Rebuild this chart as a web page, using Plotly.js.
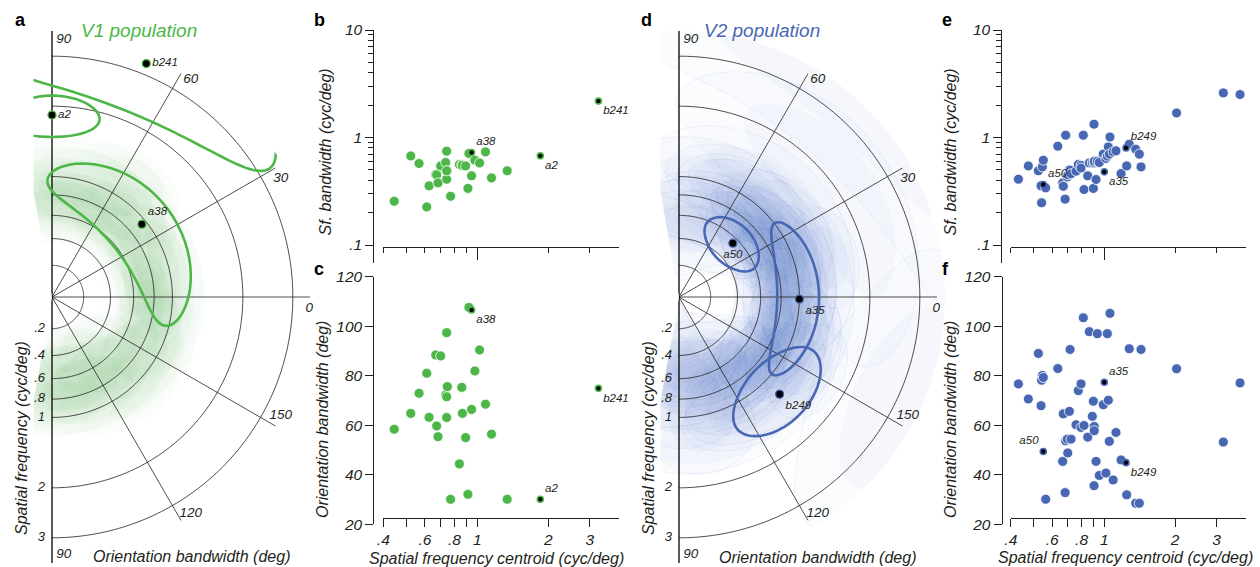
<!DOCTYPE html>
<html>
<head>
<meta charset="utf-8">
<script src="https://cdn.plot.ly/plotly-3.0.1.min.js"></script>
<style>
html,body{margin:0;padding:0;background:#fff;}
#fig{width:1260px;height:567px;}
</style>
</head>
<body>
<div id="fig"></div>
<script>
// ================= DATA =================
// polar grid: spatial-frequency rings (cyc/deg) and orientation ticks (deg)
const ringValues = [0.2, 0.4, 0.6, 0.8, 1, 2, 3];
const ringLabels = ['.2', '.4', '.6', '.8', '1', '2', '3'];
const spokeAngles = [0, 30, 60, -30, -60];
const angleTickPos = [90, 60, 30, 0, -30, -60, -90];
const angleTickText = ['90', '60', '30', '0', '150', '120', '90'];

// cartesian ticks
const sfTickVals = [0.4, 0.6, 0.8, 1, 2, 3];
const sfTickText = ['.4', '.6', '.8', '1', '2', '3'];
const sfMinorVals = [0.5, 0.7, 0.9];
const sfShortVals = [0.4, 0.5, 0.6, 0.7, 0.8, 0.9, 2, 3];
const bwTickVals = [0.1, 1, 10];
const bwTickText = ['.1', '1', '10'];
const bwMinorVals = [0.2, 0.3, 0.4, 0.5, 0.6, 0.7, 0.8, 0.9, 2, 3, 4, 5, 6, 7, 8, 9];
const oriTickVals = [20, 40, 60, 80, 100, 120];

// V1 population: SF centroid, SF bandwidth, orientation bandwidth, preferred orientation
const v1SF    = [0.445,0.523,0.567,0.611,0.625,0.667,0.673,0.682,0.700,0.735,0.742,0.747,0.742,0.742,0.771,0.840,0.860,0.865,0.893,0.913,0.922,0.946,0.977,1.023,1.084,1.149,1.339];
const v1SFbw  = [0.255,0.674,0.573,0.226,0.355,0.453,0.450,0.378,0.544,0.585,0.746,0.490,0.409,0.490,0.284,0.561,0.561,0.550,0.544,0.336,0.710,0.440,0.615,0.580,0.735,0.421,0.490];
const v1OriBw = [58.4,64.8,72.9,81.0,63.2,88.4,59.7,55.4,88.0,72.2,97.4,75.6,71.5,63.1,30.1,44.4,75.3,64.8,55.0,32.1,107.6,66.4,81.9,90.4,68.5,56.4,30.1];
const v1Pref  = [105,120,95,20,135,85,110,10,100,30,125,88,160,75,5,150,60,92,15,170,25,115,80,0,70,140,55];
// V1 example neurons
const v1HiName  = ['a2', 'b241', 'a38'];
const v1HiSF    = [1.85, 3.26, 0.946];
const v1HiSFbw  = [0.675, 2.18, 0.725];
const v1HiOriBw = [30.1, 74.9, 106.6];
const v1HiPref  = [90, 68, 39];

// V2 population
const v2SF    = [0.431,0.475,0.524,0.538,0.541,0.545,0.55,0.563,0.634,0.665,0.669,0.681,0.685,0.696,0.699,0.71,0.715,0.722,0.758,0.775,0.796,0.796,0.814,0.82,0.85,0.863,0.889,0.904,0.898,0.906,0.906,0.922,0.934,0.952,0.99,1.016,1.03,1.04,1.05,1.057,1.09,1.121,1.178,1.245,1.277,1.36,1.409,1.433,2.03,3.21,3.78];
const v2SFbw  = [0.409,0.544,0.49,0.355,0.247,0.533,0.615,0.34,0.83,0.378,0.352,0.267,1.05,0.43,0.45,0.50,0.497,0.46,0.486,0.561,0.55,0.52,1.05,0.328,0.44,0.58,0.58,1.33,0.336,0.58,0.60,0.407,0.60,0.585,0.70,0.638,0.67,0.818,0.70,1.01,0.735,0.751,0.462,0.544,0.867,0.778,0.70,0.533,1.69,2.60,2.51];
const v2OriBw = [76.7,70.6,89.0,67.9,78.2,80.1,79.3,30.1,82.9,45.4,64.6,32.8,53.7,54.4,48.8,65.6,90.6,54.4,60.2,74.0,76.7,59.1,103.4,59.9,55.2,97.8,63.6,35.6,69.7,59.5,57.8,45.4,97.0,39.7,68.3,40.7,97.0,70.1,53.5,105.2,37.9,57.1,46.0,31.9,90.9,28.5,28.5,90.6,82.8,53.2,77.1];
const v2Pref  = [100,115,75,95,60,110,85,130,105,30,120,50,92,10,150,65,165,40,135,20,110,0,80,160,35,125,15,100,55,170,25,145,5,120,45,155,20,140,60,175,30,130,10,160,40,150,15,115,35,155,50];
// V2 example neurons
const v2HiName  = ['a50', 'a35', 'b249'];
const v2HiSF    = [0.55, 1.0, 1.237];
const v2HiSFbw  = [0.365, 0.479, 0.80];
const v2HiOriBw = [49.4, 77.4, 44.9];
const v2HiPref  = [45, 179, 136];

// ================= STYLE =================
const W = 1260, H = 567;
const INK = '#231f20';
const GREEN = '#4cb748', GREEN_RGB = '76,183,72';
const BLUE = '#4767b3', BLUE_RGB = '71,103,179';
const FONT = 'Liberation Sans, Arial, Helvetica, sans-serif';
const R_MAX = 0.665, SPOKE_R = 0.645, LABEL_R = 0.644;
const italic = (size, color) => ({family: FONT, size: size, style: 'italic', color: color || INK});

// ================= HELPERS =================
const u = f => Math.log10(1 + Math.max(f, 0));            // radial scale: log(1+SF)
const plotAngle = o => (o > 90 ? o - 180 : o);            // orientation 0..180 -> -90..90

function tuningEllipse(ori, sf, oriBw, sfBw, scale) {
  const th = [], r = [], n = 90, c = plotAngle(ori);
  for (let i = 0; i <= n; i++) {
    const t = 2 * Math.PI * i / n;
    th.push(c + scale * oriBw / 2 * Math.cos(t));
    r.push(u(sf + scale * sfBw / 2 * Math.sin(t)));
  }
  return {th, r};
}

function blobTraces(sub, sf, sfbw, oribw, pref, rgb, alphas, edgeAlpha) {
  const out = [];
  for (let i = 0; i < sf.length; i++) {
    [[1.35, alphas[0], edgeAlpha], [0.85, alphas[1], 0]].forEach(([s, a, ea]) => {
      const e = tuningEllipse(pref[i], sf[i], oribw[i], sfbw[i], s);
      out.push({type: 'scatterpolar', subplot: sub, r: e.r, theta: e.th, mode: 'lines', fill: 'toself',
        fillcolor: `rgba(${rgb},${a})`, line: {color: `rgba(${rgb},${ea})`, width: ea > 0 ? 0.7 : 0},
        hoverinfo: 'skip'});
    });
  }
  return out;
}

function gridTraces(sub) {
  const out = [];
  const th = [];
  for (let a = -90; a <= 90; a += 1) th.push(a);
  ringValues.forEach(f => out.push({type: 'scatterpolar', subplot: sub, r: th.map(() => u(f)), theta: th,
    mode: 'lines', line: {color: INK, width: 0.8}, hoverinfo: 'skip'}));
  spokeAngles.forEach(a => out.push({type: 'scatterpolar', subplot: sub, r: [0, SPOKE_R], theta: [a, a],
    mode: 'lines', line: {color: INK, width: 0.8}, hoverinfo: 'skip'}));
  out.push({type: 'scatterpolar', subplot: sub, r: [R_MAX, 0, R_MAX], theta: [90, 90, -90], mode: 'lines',
    line: {color: '#000', width: 1.3}, hoverinfo: 'skip'});
  return out;
}

function labelTraces(sub) {
  return [
    {type: 'scatterpolar', subplot: sub, mode: 'markers+text', r: ringValues.map(u), theta: ringValues.map(() => -90),
      text: ringLabels, textposition: 'middle left', marker: {size: 9.6, color: 'rgba(0,0,0,0)'},
      textfont: italic(13), cliponaxis: false, hoverinfo: 'skip'},
    {type: 'scatterpolar', subplot: sub, mode: 'text', r: angleTickPos.map(() => LABEL_R),
      theta: angleTickPos.map(a => a - 2.6 * (a >= 0 ? 1 : -1)), text: angleTickText, textposition: 'middle center',
      textfont: italic(13.5), cliponaxis: false, hoverinfo: 'skip'}
  ];
}

function contourTraces(sub, sf, sfbw, oribw, pref, color) {
  return sf.map((s, i) => {
    const e = tuningEllipse(pref[i], s, oribw[i], sfbw[i], 1);
    return {type: 'scatterpolar', subplot: sub, r: e.r, theta: e.th, mode: 'lines',
      line: {color: color, width: 2.6}, hoverinfo: 'skip'};
  });
}

function hiPolarTrace(sub, names, sf, pref, pos, color) {
  return {type: 'scatterpolar', subplot: sub, mode: 'markers+text', r: sf.map(u), theta: pref.map(plotAngle),
    text: names, textposition: pos, textfont: italic(11.5),
    marker: {size: 8, color: '#000', line: {color: color, width: 1.3}}, cliponaxis: false, hoverinfo: 'skip'};
}

function dotTraces(xa, ya, xs, ys, hx, hy, names, pos, color) {
  return [
    {type: 'scatter', xaxis: xa, yaxis: ya, x: xs, y: ys, mode: 'markers',
      marker: {size: 10, color: color, line: {color: '#fff', width: 0.8}}, hoverinfo: 'skip'},
    {type: 'scatter', xaxis: xa, yaxis: ya, x: hx, y: hy, mode: 'markers+text', text: names, textposition: pos,
      textfont: italic(11.5), marker: {size: 6, color: '#000', line: {color: color, width: 1.6}},
      cliponaxis: false, hoverinfo: 'skip'}
  ];
}

// ================= TRACES =================
let traces = [];
traces = traces.concat(blobTraces('polar', v1SF, v1SFbw, v1OriBw, v1Pref, GREEN_RGB, [0.025, 0.04], 0));
traces = traces.concat(blobTraces('polar2', v2SF, v2SFbw, v2OriBw, v2Pref, BLUE_RGB, [0.018, 0.032], 0.1));
traces = traces.concat(gridTraces('polar'), gridTraces('polar2'));
traces = traces.concat(contourTraces('polar', v1HiSF, v1HiSFbw, v1HiOriBw, v1HiPref, GREEN));
traces = traces.concat(contourTraces('polar2', v2HiSF, v2HiSFbw, v2HiOriBw, v2HiPref, BLUE));
traces.push(hiPolarTrace('polar', v1HiName, v1HiSF, v1HiPref, ['middle right', 'middle right', 'top right'], GREEN));
traces.push(hiPolarTrace('polar2', v2HiName, v2HiSF, v2HiPref, ['bottom center', 'bottom right', 'bottom right'], BLUE));
traces = traces.concat(labelTraces('polar'), labelTraces('polar2'));

traces = traces.concat(dotTraces('x', 'y', v1SF, v1SFbw, v1HiSF, v1HiSFbw, v1HiName, ['bottom right', 'bottom right', 'top right'], GREEN));
traces = traces.concat(dotTraces('x2', 'y2', v1SF, v1OriBw, v1HiSF, v1HiOriBw, v1HiName, ['top right', 'bottom right', 'bottom right'], GREEN));
traces = traces.concat(dotTraces('x3', 'y3', v2SF, v2SFbw, v2HiSF, v2HiSFbw, v2HiName, ['top right', 'bottom right', 'top right'], BLUE));
traces = traces.concat(dotTraces('x4', 'y4', v2SF, v2OriBw, v2HiSF, v2HiOriBw, v2HiName, ['top left', 'top right', 'bottom right'], BLUE));

// ================= LAYOUT =================
function polarCfg(cx, cy, Rpx) {
  return {
    domain: {x: [(cx - Rpx * (-Math.cos(100 * Math.PI / 180))) / W, (cx + Rpx) / W], y: [1 - (cy + Rpx) / H, 1 - (cy - Rpx) / H]},
    sector: [-100, 100], bgcolor: 'rgba(0,0,0,0)',
    radialaxis: {range: [0, R_MAX], showline: false, showgrid: false, showticklabels: false, ticks: ''},
    angularaxis: {rotation: 0, direction: 'counterclockwise', showline: false, showgrid: false, showticklabels: false, ticks: ''}
  };
}

const TICKFONT = italic(15.5);

function sfAxis(x0, x1, ypx, labeled) {
  const a = {type: 'log', range: [Math.log10(0.4), Math.log10(4)], domain: [x0 / W, x1 / W], anchor: 'free',
    position: 1 - ypx / H, showline: true, linecolor: INK, linewidth: 1, showgrid: false, zeroline: false,
    ticks: 'outside', tickcolor: INK, tickwidth: 1, tickfont: TICKFONT, fixedrange: true, tickmode: 'array'};
  if (labeled) {
    Object.assign(a, {tickvals: sfTickVals, ticktext: sfTickText, ticklen: 8,
      minor: {tickmode: 'array', tickvals: sfMinorVals, ticks: 'outside', ticklen: 8, tickcolor: INK, tickwidth: 1, showgrid: false}});
  } else {
    Object.assign(a, {tickvals: [1], ticktext: [''], ticklen: 12, showticklabels: false,
      minor: {tickmode: 'array', tickvals: sfShortVals, ticks: 'outside', ticklen: 5, tickcolor: INK, tickwidth: 1, showgrid: false}});
  }
  return a;
}

function bwAxis(xpx) {
  return {type: 'log', range: [-1.1674, 1], domain: [1 - 263 / H, 1 - 30 / H], anchor: 'free', position: xpx / W,
    showline: true, linecolor: INK, linewidth: 1, showgrid: false, zeroline: false,
    ticks: 'outside', ticklen: 8, tickcolor: INK, tickwidth: 1, tickfont: TICKFONT, fixedrange: true,
    tickmode: 'array', tickvals: bwTickVals, ticktext: bwTickText,
    minor: {tickmode: 'array', tickvals: bwMinorVals, ticks: 'outside', ticklen: 5, tickcolor: INK, tickwidth: 1, showgrid: false}};
}

function oriAxis(xpx) {
  return {range: [20, 120], domain: [1 - 524.3 / H, 1 - 276.7 / H], anchor: 'free', position: xpx / W,
    showline: true, linecolor: INK, linewidth: 1, showgrid: false, zeroline: false,
    ticks: 'outside', ticklen: 8, tickcolor: INK, tickwidth: 1, tickfont: TICKFONT, fixedrange: true,
    tickmode: 'array', tickvals: oriTickVals};
}

function ann(text, x, y, font, extra) {
  return Object.assign({text: text, x: x / W, y: 1 - y / H, xref: 'paper', yref: 'paper', showarrow: false,
    xanchor: 'center', yanchor: 'middle', font: font}, extra || {});
}
const bold = {family: FONT, size: 18, weight: 700, color: '#000'};
const ttl = italic(16);

const layout = {
  width: W, height: H, margin: {l: 0, r: 0, t: 0, b: 0},
  paper_bgcolor: '#fff', plot_bgcolor: 'rgba(0,0,0,0)', showlegend: false,
  font: {family: FONT, color: INK, size: 14},
  polar: polarCfg(52, 297, 266),
  polar2: polarCfg(679, 297, 266),
  xaxis: sfAxis(383.3, 619.4, 246.7, false),
  yaxis: bwAxis(373.3),
  xaxis2: sfAxis(383.3, 619.4, 517.7, true),
  yaxis2: oriAxis(373.3),
  xaxis3: sfAxis(1010.8, 1245.8, 246.7, false),
  yaxis3: bwAxis(1001.3),
  xaxis4: sfAxis(1010.8, 1245.8, 517.7, true),
  yaxis4: oriAxis(1001.5),
  shapes: [
    {type: 'rect', xref: 'paper', yref: 'paper', x0: 0, x1: 33.5 / W, y0: 0, y1: 1, fillcolor: '#fff', line: {width: 0}, layer: 'above'},
    {type: 'rect', xref: 'paper', yref: 'paper', x0: 628 / W, x1: 660.5 / W, y0: 0, y1: 1, fillcolor: '#fff', line: {width: 0}, layer: 'above'}
  ],
  annotations: [
    ann('a', 20.5, 20, bold), ann('b', 319, 20, bold), ann('c', 319, 269, bold),
    ann('d', 647, 20, bold), ann('e', 947, 20, bold), ann('f', 945, 269, bold),
    ann('V1 population', 138.5, 30, italic(19, GREEN)),
    ann('V2 population', 761.5, 30, italic(19, BLUE)),
    ann('Spatial frequency (cyc/deg)', 21, 438, ttl, {textangle: -90}),
    ann('Orientation bandwidth (deg)', 191.5, 556, ttl),
    ann('Spatial frequency (cyc/deg)', 648, 438, ttl, {textangle: -90}),
    ann('Orientation bandwidth (deg)', 817, 557, ttl),
    ann('Sf. bandwidth (cyc/deg)', 325, 152.5, ttl, {textangle: -90}),
    ann('Orientation bandwidth (deg)', 322, 420, ttl, {textangle: -90}),
    ann('Spatial frequency centroid (cyc/deg)', 496.5, 558, ttl),
    ann('Sf. bandwidth (cyc/deg)', 950, 152.5, ttl, {textangle: -90}),
    ann('Orientation bandwidth (deg)', 950, 420, ttl, {textangle: -90}),
    ann('Spatial frequency centroid (cyc/deg)', 1125, 557, ttl)
  ]
};

Plotly.newPlot('fig', traces, layout, {displayModeBar: false, staticPlot: true});
</script>
</body>
</html>
